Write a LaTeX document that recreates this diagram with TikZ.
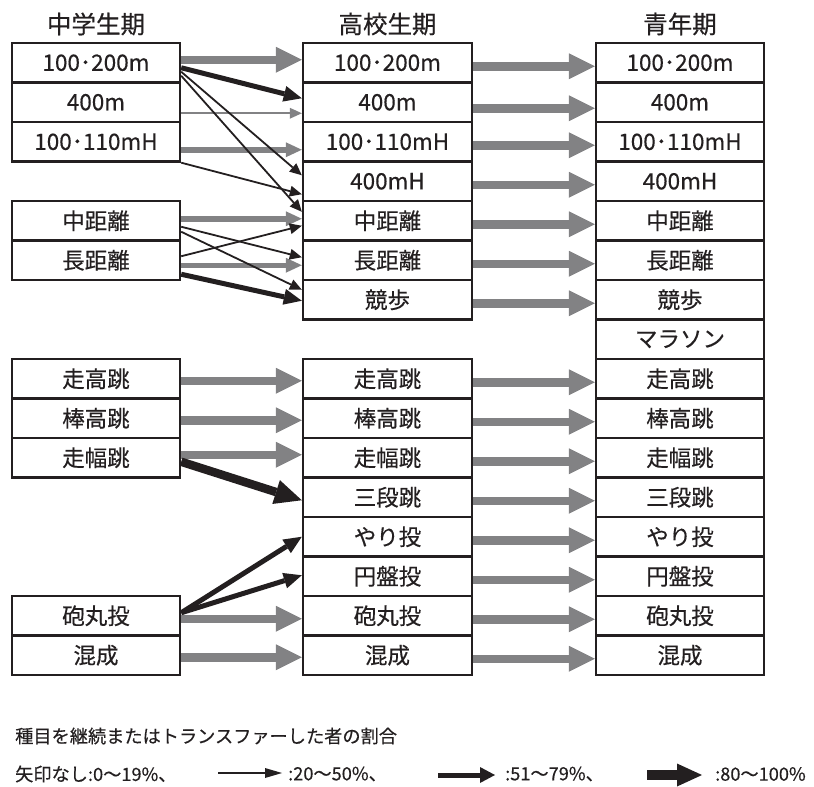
\documentclass[tikz,border=0pt]{standalone}
\usepackage{fontspec}
\setmainfont{Noto Sans CJK JP}[FakeBold=0.4]
\usetikzlibrary{arrows.meta,calc}
\definecolor{agray}{RGB}{130,130,132}
\definecolor{ablack}{RGB}{35,31,32}
\begin{document}
\begin{tikzpicture}[x=1pt,y=-1pt,
  cell/.style={draw=ablack,line width=2.4pt,minimum height=39.5pt,inner sep=0pt,
    font=\fontsize{22.5}{26}\selectfont,text=ablack},
  lcol/.style={cell,minimum width=168pt},
  mcol/.style={cell,minimum width=169pt},
  hdr/.style={font=\fontsize{24.5}{28}\selectfont,text=ablack,inner sep=0pt},
  lgd/.style={font=\fontsize{18.2}{22}\selectfont,text=ablack,inner sep=0pt,anchor=west},
  gthick/.style={draw=agray,line width=8.5pt,-{Triangle[length=26pt,width=26pt,line width=0pt]}},
  gmed/.style={draw=agray,line width=5.5pt,-{Triangle[length=16pt,width=15pt,line width=0pt]}},
  gthin/.style={draw=agray,line width=1.8pt,-{Triangle[length=12pt,width=11pt,line width=0pt]}},
  bthick/.style={draw=ablack,line width=8.5pt,-{Triangle[length=27pt,width=25pt,line width=0pt]}},
  bmed/.style={draw=ablack,line width=5pt,-{Triangle[length=18pt,width=16pt,line width=0pt]}},
  bthin/.style={draw=ablack,line width=1.8pt,-{Triangle[length=12pt,width=11pt,line width=0pt]}},
  lthin/.style={draw=ablack,line width=1.8pt,-{Triangle[length=17pt,width=10pt,line width=0pt]}},
  lmed/.style={draw=ablack,line width=5pt,-{Triangle[length=15pt,width=16pt,line width=0pt]}},
  lthick/.style={draw=ablack,line width=10pt,-{Triangle[length=25pt,width=23pt,line width=0pt]}}
]
\useasboundingbox (0,0) rectangle (814,787);

% headers
\node[hdr] (h1) at (96,24) {中学生期};
\node[hdr] (h2) at (387.5,24) {高校生期};
\node[hdr] (h3) at (680,24) {青年期};

% left column
\foreach \i/\t in {0/100･200m,1/400m,2/100･110mH,4/中距離,5/長距離,8/走高跳,9/棒高跳,10/走幅跳,14/砲丸投,15/混成}
  \node[lcol] (L\i) at (96,{62.75+39.5*\i}) {\t};
% middle column
\foreach \i/\t in {0/100･200m,1/400m,2/100･110mH,3/400mH,4/中距離,5/長距離,6/競歩,8/走高跳,9/棒高跳,10/走幅跳,11/三段跳,12/やり投,13/円盤投,14/砲丸投,15/混成}
  \node[mcol] (M\i) at (387.5,{62.75+39.5*\i}) {\t};
% right column
\foreach \i/\t in {0/100･200m,1/400m,2/100･110mH,3/400mH,4/中距離,5/長距離,6/競歩,7/マラソン,8/走高跳,9/棒高跳,10/走幅跳,11/三段跳,12/やり投,13/円盤投,14/砲丸投,15/混成}
  \node[lcol] (R\i) at (680,{62.75+39.5*\i}) {\t};

% gray arrows left -> middle
\draw[gthick] ($(L0.east)+(0,-3)$) -- ($(M0.west)+(0,-3)$);
\draw[gthin]  ($(L1.east)+(0,11)$) -- ($(M1.west)+(0,11)$);
\draw[gmed]   ($(L2.east)+(0,8)$) -- ($(M2.west)+(0,8)$);
\draw[gmed]   ($(L4.east)+(0,-2)$) -- ($(M4.west)+(0,-2)$);
\draw[gmed]   ($(L5.east)+(0,5)$) -- ($(M5.west)+(0,5)$);
\foreach \i/\o in {8/2,9/2,10/-3,14/3,15/2}
  \draw[gthick] ($(L\i.east)+(0,\o)$) -- ($(M\i.west)+(0,\o)$);

% gray arrows middle -> right
\foreach \i in {0,2,3,4,5,6,8,9,10,11,12,13,14,15}
  \draw[gthick] ($(M\i.east)+(0,3.5)$) -- ($(R\i.west)+(0,3.5)$);
\draw[gthick] ($(M1.east)+(0,6)$) -- ($(R1.west)+(0,6)$);

% black arrows
\draw[bmed]  ($(L0.east)+(0,5)$) -- ($(M1.west)+(0,-4)$);
\draw[bthin] ($(L0.east)+(0,9)$) -- ($(M3.west)+(0,-6)$);
\draw[bthin] ($(L0.east)+(0,13)$) -- ($(M4.west)+(0,-9)$);
\draw[bthin] (L2.south east) -- ($(M3.west)+(0,13)$);
\draw[bthin] ($(L4.east)+(0,6)$) -- ($(M5.west)+(0,-3)$);
\draw[bthin] ($(L4.east)+(0,11)$) -- ($(M6.west)+(0,-10)$);
\draw[bthin] ($(L5.east)+(0,-4)$) -- ($(M4.west)+(0,5)$);
\draw[bmed]  ($(L5.east)+(0,14)$) -- ($(M6.west)+(0,1)$);
\draw[bthick] ($(L10.east)+(0,4)$) -- ($(M11.west)+(0,3)$);
\draw[bmed]  ($(L14.east)+(0,-3)$) -- ($(M12.west)+(0,0)$);
\draw[bmed]  ($(L14.east)+(0,-3)$) -- ($(M13.west)+(0,-1)$);

% legend
\node[lgd] (lt1) at (15,736) {種目を継続またはトランスファーした者の割合};
\node[lgd] (lt2) at (15,774) {矢印なし:0〜19\%、};
\coordinate (la1) at (218,773);
\coordinate (lb1) at (282,773);
\draw[lthin] (la1) -- (lb1);
\node[lgd] (lt3) at (288,774) {:20〜50\%、};
\coordinate (la2) at (438,775);
\coordinate (lb2) at (495,775);
\draw[lmed] (la2) -- (lb2);
\node[lgd] (lt4) at (505,774) {:51〜79\%、};
\coordinate (la3) at (647,775);
\coordinate (lb3) at (702,775);
\draw[lthick] (la3) -- (lb3);
\node[lgd] (lt5) at (715,774) {:80〜100\%};
\end{tikzpicture}
\end{document}
